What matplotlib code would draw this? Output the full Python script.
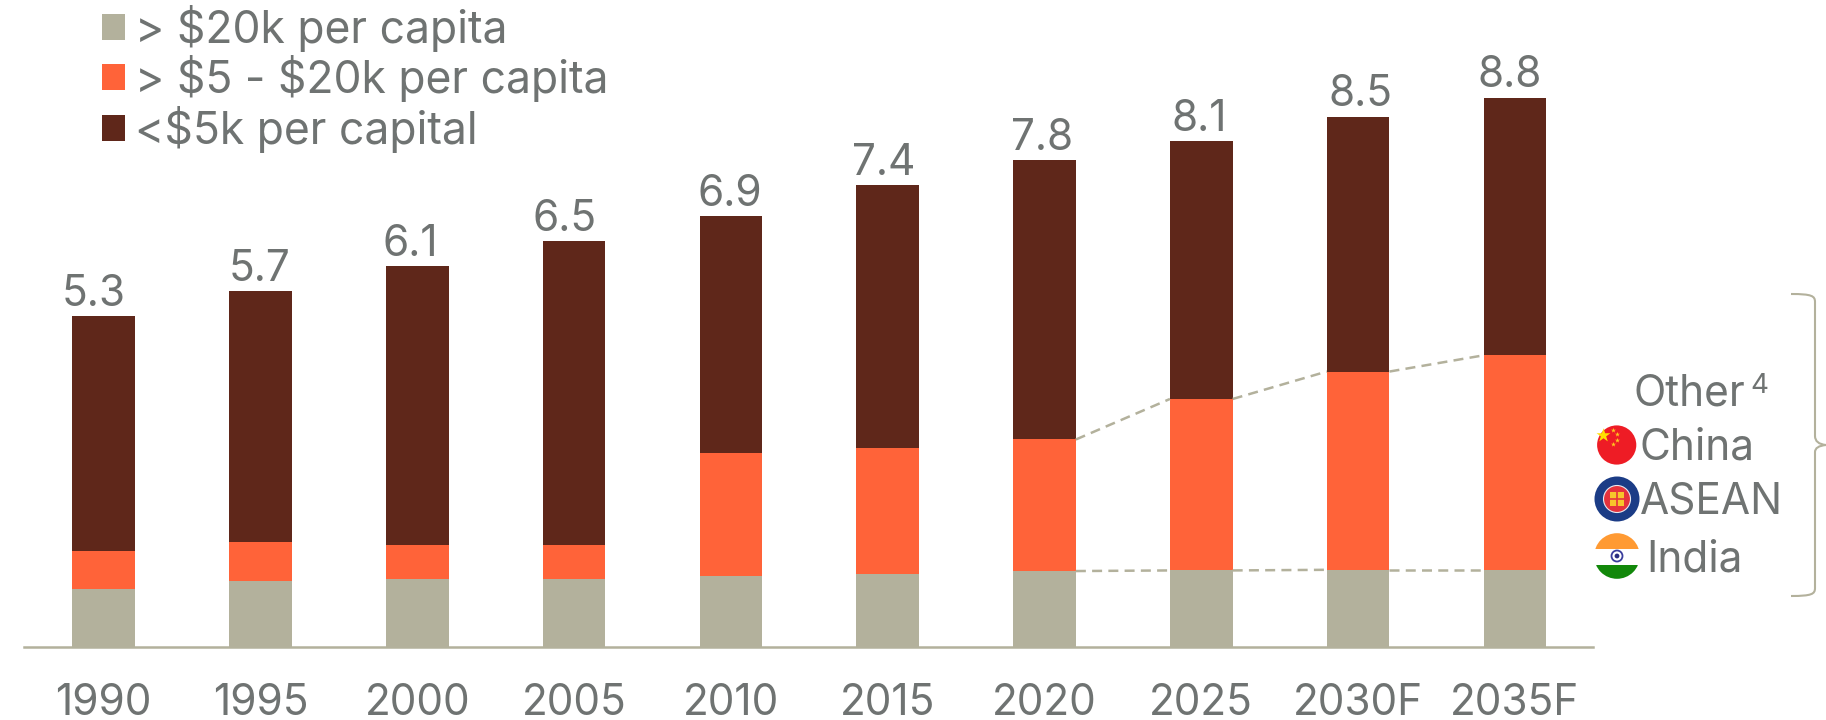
import numpy as np
import matplotlib
matplotlib.use("Agg")
import matplotlib.pyplot as plt
from matplotlib.patches import Circle, PathPatch, Rectangle
from matplotlib.path import Path

years = ['1990', '1995', '2000', '2005', '2010', '2015', '2020', '2025', '2030F', '2035F']
totals = [5.3, 5.7, 6.1, 6.5, 6.9, 7.4, 7.8, 8.1, 8.5, 8.8]
high_income = [0.93, 1.05, 1.08, 1.08, 1.13, 1.17, 1.21, 1.22, 1.23, 1.23]
mid_income = [0.60, 0.63, 0.54, 0.54, 1.98, 2.01, 2.11, 2.75, 3.18, 3.44]
series_names = ['> $20k per capita', '> $5 - $20k per capita', '<$5k per capital']

GREY = '#B3B19C'
ORANGE = '#FF6339'
BROWN = '#5F271A'
TEXT = '#6F7372'
FS = 30.5

plt.rcParams['font.family'] = ['Inter', 'DejaVu Sans']

W, H = 1826, 720
fig = plt.figure(figsize=(W / 100, H / 100), dpi=100)

# main axes, placed in pixels
ax = fig.add_axes([24 / W, (H - 646.5) / H, (1593 - 24) / W, 646.5 / H])
x = np.arange(len(years))
high = np.array(high_income)
mid = np.array(mid_income)
low = np.array(totals) - high - mid
bar_w = 0.40

ax.bar(x, high, bar_w, color=GREY, label=series_names[0].replace('$', r'\$'))
ax.bar(x, mid, bar_w, bottom=high, color=ORANGE, label=series_names[1].replace('$', r'\$'))
ax.bar(x, low, bar_w, bottom=high + mid, color=BROWN, label=series_names[2].replace('$', r'\$'))

# the value labels sit a little off centre in the original, offsets in points
label_shift = [-7.5, -1, -5, -7, -1, -3, -2, -1.5, 1.5, -4]
for i, t in enumerate(totals):
    ax.annotate(f'{t:.1f}', (i, t), xytext=(label_shift[i], 1), textcoords='offset points',
                ha='center', va='bottom', fontsize=FS, color=TEXT)

# dashed connectors for the forecast years
for i in range(6, len(years) - 1):
    for tops in (high, high + mid):
        ax.plot([i + bar_w / 2, i + 1 - bar_w / 2], [tops[i], tops[i + 1]],
                color=GREY, lw=1.8, ls=(0, (4, 2.5)))

ax.set_xlim(-0.508, 9.498)
ax.set_ylim(0, 646.5 / 62.35)
ax.set_xticks(x, years)
ax.set_yticks([])
ax.tick_params(axis='x', length=0, pad=26, labelsize=FS, labelcolor=TEXT)
for s in ['top', 'left', 'right']:
    ax.spines[s].set_visible(False)
ax.spines['bottom'].set_color(GREY)
ax.spines['bottom'].set_linewidth(1.8)
ax.patch.set_alpha(0)

ax.legend(loc='upper left', bbox_to_anchor=(102 / W, 1 - 4.5 / H), bbox_transform=fig.transFigure,
          frameon=False, fontsize=32, handlelength=0.52, handleheight=0.52, handletextpad=0.22,
          labelspacing=0.08, borderaxespad=0, borderpad=0, labelcolor=TEXT)

# overlay in pixel coordinates for the bracket and the flags
ov = fig.add_axes([0, 0, 1, 1])
ov.set_xlim(0, W)
ov.set_ylim(H, 0)
ov.axis('off')

brace = Path([(1791, 294), (1812, 294), (1815, 296), (1815, 302), (1815, 436), (1815, 444), (1826, 445),
              (1815, 446), (1815, 452), (1815, 588), (1815, 594), (1812, 596), (1791, 596)],
             [Path.MOVETO, Path.CURVE4, Path.CURVE4, Path.CURVE4, Path.LINETO, Path.CURVE3, Path.CURVE3,
              Path.CURVE3, Path.CURVE3, Path.LINETO, Path.CURVE4, Path.CURVE4, Path.CURVE4])
ov.add_patch(PathPatch(brace, fc='none', ec=GREY, lw=1.5))

ov.text(1634, 406, 'Other', fontsize=FS, color=TEXT, va='baseline')
ov.text(1750, 393, '4', fontsize=20, color=TEXT, va='baseline')
ov.text(1640, 460, 'China', fontsize=FS, color=TEXT, va='baseline')
ov.text(1640, 514, 'ASEAN', fontsize=FS, color=TEXT, va='baseline')
ov.text(1646, 571, 'India', fontsize=FS, color=TEXT, va='baseline')

# China flag
ov.add_patch(Circle((1616.7, 445), 19.6, fc='#EE1C25', ec='none'))
ov.scatter([1603], [435], marker='*', s=110, c='#FFE000', linewidths=0)
ov.scatter([1613, 1617, 1617, 1613], [430, 434, 440, 444], marker='*', s=14, c='#FFC81E', linewidths=0)

# ASEAN flag
ov.add_patch(Circle((1617, 499), 22.5, fc='#1B3C86', ec='none'))
ov.add_patch(Circle((1617, 499), 13.5, fc='#E5323C', ec='#E8E8F0', lw=0.8))
ov.add_patch(Rectangle((1610, 492), 14, 14, fc='#F7C52B', ec='none'))
ov.plot([1617, 1617], [492, 506], color='#E5323C', lw=1.2)
ov.plot([1610, 1624], [499, 499], color='#E5323C', lw=1.2)

# India flag
india = Circle((1617, 556), 22.8, transform=ov.transData)
for y0, h, c in [(533, 15.5, '#FF9A33'), (548.5, 16, 'white'), (564.5, 15, '#12880A')]:
    r = Rectangle((1594, y0), 46, h, fc=c, ec='none')
    ov.add_patch(r)
    r.set_clip_path(india)
ov.add_patch(Circle((1617, 556), 5.5, fc='white', ec='#3A3D9C', lw=1.3))
ov.add_patch(Circle((1617, 556), 2.4, fc='#2A2D80', ec='none'))

fig.savefig('out.png', dpi=100)
